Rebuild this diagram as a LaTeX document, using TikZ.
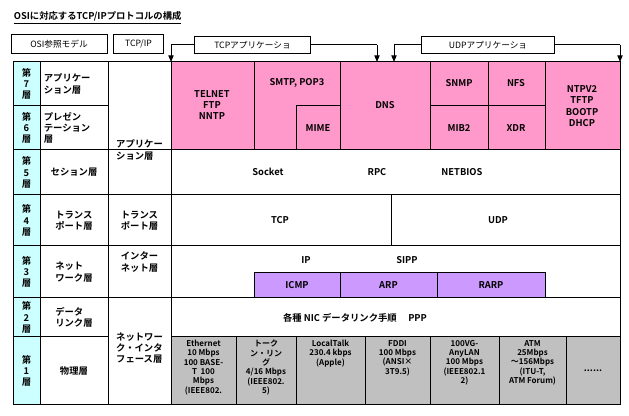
\documentclass[tikz,border=0pt]{standalone}
\usepackage{fontspec}
\setmainfont{Noto Sans CJK JP}[BoldFont={Noto Sans CJK JP Bold}]
\definecolor{layercyan}{RGB}{204,255,255}
\definecolor{apppink}{RGB}{255,153,204}
\definecolor{ippurple}{RGB}{204,153,255}
\definecolor{physgray}{RGB}{192,192,192}
\tikzset{every picture/.style={line width=0.75pt}}
\tikzset{
  lbl/.style={font=\fontsize{7}{8.5}\selectfont\bfseries, align=center, inner sep=1pt},
  small/.style={font=\fontsize{6}{7}\selectfont\bfseries, align=center, inner sep=0.5pt},
  hdr/.style={draw, font=\fontsize{6.5}{7}\selectfont, inner sep=2pt, fill=white},
  tipdown/.style={-{Triangle[length=5pt,width=4pt]}}
}
\usetikzlibrary{arrows.meta}
\begin{document}
\begin{tikzpicture}[x=0.75pt,y=0.75pt,yscale=-1,xscale=1]
\useasboundingbox (0,0) rectangle (629,416);

% Title
\node[lbl, anchor=west] (title) at (12,18) {\underline{OSIに対応するTCP/IPプロトコルの構成}};

% Headers
\node[hdr, minimum width=72, minimum height=14] (osihdr) at (59,44) {OSI参照モデル};
\node[hdr, minimum width=37, minimum height=14] (tcphdr) at (138.5,44) {TCP/IP};

% Fills
\fill[layercyan] (13,62) rectangle (40,405);
\fill[apppink] (171,62) rectangle (620,150);
\fill[ippurple] (254,273) rectangle (545,298);
\fill[physgray] (171,337) rectangle (620,405);

% Grid
\draw (13,62) rectangle (620,405);
\draw (40,62) -- (40,405);
\draw (108,62) -- (108,405);
\draw (171,62) -- (171,405);
\draw (13,106) -- (108,106);
\draw (13,150) -- (620,150);
\draw (13,195) -- (620,195);
\draw (13,246) -- (620,246);
\draw (13,298) -- (620,298);
\draw (13,337) -- (108,337);
\draw (171,337) -- (620,337);
\draw (391,195) -- (391,246);
% application cells
\draw (254,62) -- (254,150);
\draw (340,62) -- (340,150);
\draw (430,62) -- (430,150);
\draw (488,62) -- (488,150);
\draw (545,62) -- (545,150);
\draw (296,106) -- (340,106);
\draw (296,106) -- (296,150);
\draw (430,106) -- (545,106);
% internet cells
\draw (254,273) rectangle (545,298);
\draw (340,273) -- (340,298);
\draw (437,273) -- (437,298);
% physical cells
\foreach \xx in {236,296,365,430,499,566} \draw (\xx,337) -- (\xx,405);

% Layer numbers
\node[lbl] (l7) at (26.5,84) {第\\7\\層};
\node[lbl] (l6) at (26.5,128) {第\\6\\層};
\node[lbl] (l5) at (26.5,172.5) {第\\5\\層};
\node[lbl] (l4) at (26.5,220.5) {第\\4\\層};
\node[lbl] (l3) at (26.5,272) {第\\3\\層};
\node[lbl] (l2) at (26.5,317.5) {第\\2\\層};
\node[lbl] (l1) at (26.5,371) {第\\1\\層};

% OSI names
\node[lbl, align=left, anchor=west] (n7) at (42,84) {アプリケー\\ション層};
\node[lbl, align=left, anchor=west] (n6) at (42,128) {プレゼン\\テーション\\層};
\node[lbl] (n5) at (74,172.5) {セション層};
\node[lbl, align=left] (n4) at (74,220.5) {トランス\\ポート層};
\node[lbl, align=left] (n3) at (74,272) {ネット\\ワーク層};
\node[lbl, align=left] (n2) at (74,317.5) {データ\\リンク層};
\node[lbl] (n1) at (74,371) {物理層};

% TCP/IP names
\node[lbl, align=left] (t1) at (139.5,150) {アプリケー\\ション層};
\node[lbl, align=left] (t2) at (139.5,220.5) {トランス\\ポート層};
\node[lbl, align=left] (t3) at (139.5,262) {インター\\ネット層};
\node[lbl, align=left] (t4) at (139.5,348) {ネットワー\\ク・インタ\\フェース層};

% Application protocols
\node[lbl] (telnet) at (212,105) {TELNET\\FTP\\NNTP};
\node[lbl] (smtp) at (297,83) {SMTP, POP3};
\node[lbl] (mime) at (318,128) {MIME};
\node[lbl] (dns) at (385,105) {DNS};
\node[lbl] (snmp) at (459,83) {SNMP};
\node[lbl] (nfs) at (516,83) {NFS};
\node[lbl] (mib) at (459,128) {MIB2};
\node[lbl] (xdr) at (516,128) {XDR};
\node[lbl] (ntp) at (582,106) {NTPV2\\TFTP\\BOOTP\\DHCP};

% Session, transport, internet
\node[lbl] (socket) at (268,172) {Socket};
\node[lbl] (rpc) at (377,172) {RPC};
\node[lbl] (netbios) at (462,172) {NETBIOS};
\node[lbl] (tcp) at (280,220.5) {TCP};
\node[lbl] (udp) at (498,220.5) {UDP};
\node[lbl] (ip) at (306,260) {IP};
\node[lbl] (sipp) at (407,260) {SIPP};
\node[lbl] (icmp) at (297,285.5) {ICMP};
\node[lbl] (arp) at (388.5,285.5) {ARP};
\node[lbl] (rarp) at (491,285.5) {RARP};
\node[lbl] (nic) at (355,318) {各種 NIC データリンク手順 \quad PPP};

% Physical media
\node[small, anchor=north] (eth) at (203.5,339) {Ethernet\\10 Mbps\\100 BASE-\\T \ 100\\Mbps\\(IEEE802.};
\node[small, anchor=north] (token) at (266,339) {トーク\\ン・リン\\グ\\4/16 Mbps\\(IEEE802.\\5)};
\node[small, anchor=north] (ltalk) at (330.5,339) {LocalTalk\\230.4 kbps\\(Apple)};
\node[small, anchor=north] (fddi) at (397.5,339) {FDDI\\100 Mbps\\(ANSI×\\3T9.5)};
\node[small, anchor=north] (vg) at (464.5,339) {100VG-\\AnyLAN\\100 Mbps\\(IEEE802.1\\2)};
\node[small, anchor=north] (atm) at (532.5,339) {ATM\\25Mbps\\～156Mbps\\(ITU-T,\\ATM Forum)};
\node[lbl] (dots) at (593,371) {......};

% Application brackets
\node[hdr, minimum width=87, minimum height=13] (tcpapp) at (252.5,45) {TCPアプリケーショ};
\node[hdr, minimum width=100, minimum height=13] (udpapp) at (488,45) {UDPアプリケーショ};
\coordinate (tl) at (171,45);
\coordinate (tr) at (377,45);
\coordinate (ul) at (394,45);
\coordinate (ur) at (620,45);
\draw (tcpapp.west) -- (tl);
\draw (tcpapp.east) -- (tr);
\draw (udpapp.west) -- (ul);
\draw (udpapp.east) -- (ur);
\draw[tipdown] (tl) -- (171,62);
\draw[tipdown] (tr) -- (377,62);
\draw[tipdown] (ul) -- (394,62);
\draw[tipdown] (ur) -- (620,62);

\end{tikzpicture}
\end{document}
